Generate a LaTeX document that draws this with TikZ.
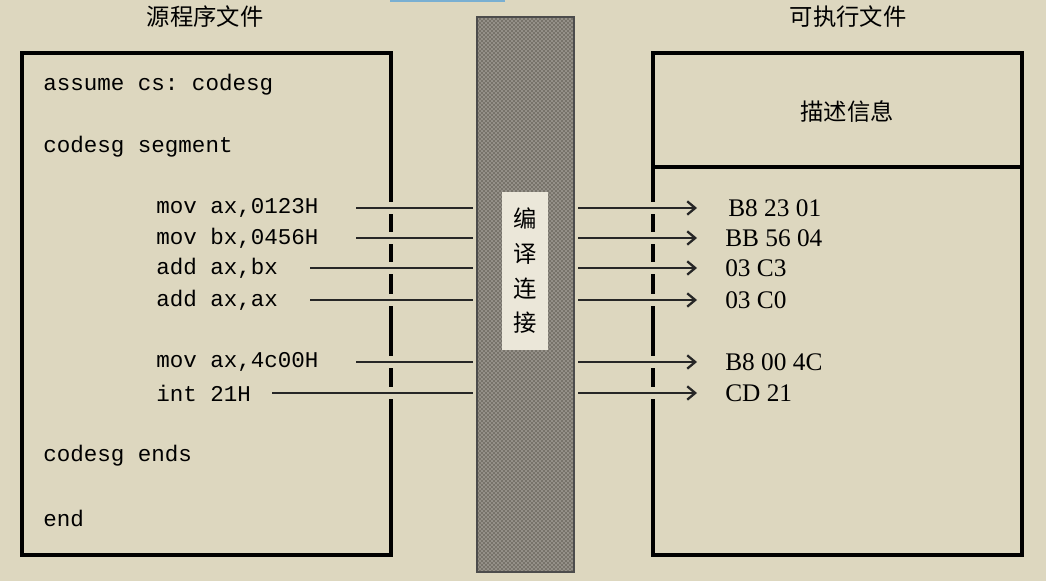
\documentclass[tikz,border=0pt]{standalone}
\usepackage{fontspec}
\setmonofont{Liberation Mono}
\setmainfont{Liberation Serif}
\newfontfamily\cjk{Noto Sans CJK SC}
\usetikzlibrary{patterns,arrows.meta}
\definecolor{bg}{HTML}{DDD7BF}
\definecolor{band}{HTML}{77736A}
\tikzset{
  code/.style={anchor=west,inner sep=0,font=\ttfamily\fontsize{16.9}{18}\selectfont},
  hex/.style={anchor=west,inner sep=0,font=\fontsize{19}{21}\selectfont},
  title/.style={font=\cjk\fontsize{17.5}{19}\selectfont},
  boxline/.style={line width=2.6pt,black},
  conn/.style={line width=1.7pt,black!85},
}
\begin{document}
\begin{tikzpicture}[x=0.75pt,y=-0.75pt]
\fill[bg] (0,0) rectangle (1046,581);
\useasboundingbox (0,0) rectangle (1046,581);
\fill[blue!40!cyan!50!gray!70] (390,-5) rectangle (505,2);
% boxes
\draw[boxline] (22,53) rectangle (391,555);
\draw[boxline] (653,53) rectangle (1022,555);
\draw[boxline] (653,167) -- (1022,167);
% band
\fill[band] (477,17) rectangle (574,572);
\fill[pattern=crosshatch dots, pattern color=white!70!bg] (477,17) rectangle (574,572);
\draw[line width=1pt,black!70] (477,17) rectangle (574,572);
\node[fill=bg!60!white,minimum width=34.5pt,minimum height=118.5pt,inner sep=0] (lab) at (525,271) {};
\node[title,align=center] at (lab) {编\\[7pt]译\\[7pt]连\\[7pt]接};
% titles
\node[title] (t1) at (205,17) {源程序文件};
\node[title] (t2) at (848,17) {可执行文件};
\node[title] (d) at (847,112) {描述信息};
% code
\node[code] (c1) at (43,85) {assume cs: codesg};
\node[code] (c2) at (43,147) {codesg segment};
\node[code] (c9) at (43,456) {codesg ends};
\node[code] (c10) at (43,518) {end};
\foreach \y/\xs/\txt/\h/\hx [count=\i] in {208/356/{mov ax,0123H}/B8 23 01/728, 238/356/{mov bx,0456H}/BB 56 04/725, 268/310/{add ax,bx}/03 C3/725, 300/310/{add ax,ax}/03 C0/725, 362/356/{mov ax,4c00H}/B8 00 4C/725, 393/272/{int 21H}/CD 21/725}{
  \node[code] (s\i) at (156,\y) {\txt};
  \node[hex] (h\i) at (\hx,\y) {\h};
  \coordinate (a\i) at (\xs,\y);
  \coordinate (b\i) at (473,\y);
  \coordinate (p\i) at (578,\y);
  \coordinate (q\i) at (697,\y);
  \fill[bg] (386,\y-6) rectangle (396,\y+6);
  \fill[bg] (648,\y-6) rectangle (658,\y+6);
  \draw[conn] (a\i) -- (b\i);
  \draw[conn,-{Straight Barb[length=6pt,width=10pt]}] (p\i) -- (q\i);
}
\end{tikzpicture}
\end{document}
